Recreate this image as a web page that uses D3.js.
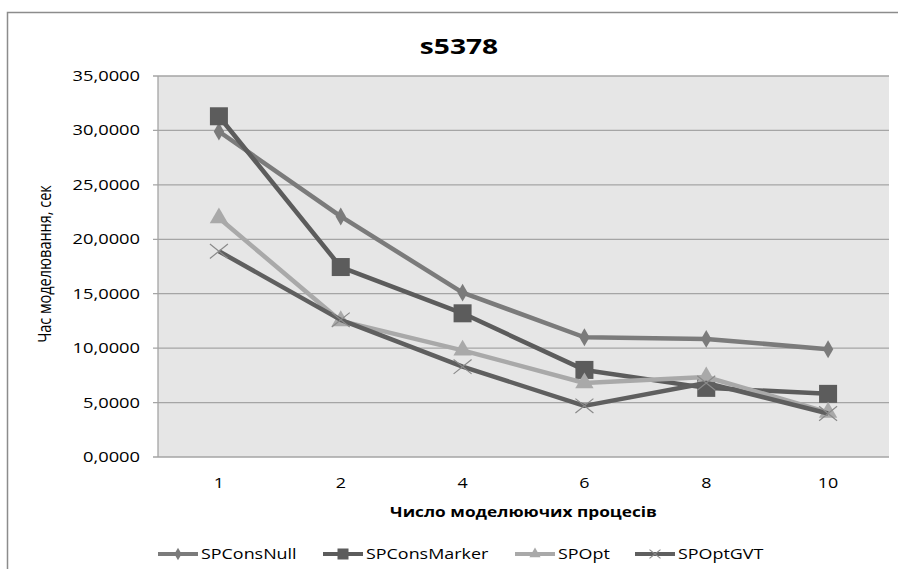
<!DOCTYPE html>
<html lang="uk">
<head>
    <meta charset="utf-8">
    <title>s5378</title>
    <script src="https://cdn.jsdelivr.net/npm/d3@7"></script>
    <style>
        body { margin: 0; background: #fff; }
        svg text { font-family: "Open Sans", sans-serif; fill: #000; }
    </style>
</head>
<body>
    <svg id="chart" width="898" height="569"></svg>

    <script>
        // data
        const processes = ["1", "2", "4", "6", "8", "10"];
        const yTicks = [0, 5, 10, 15, 20, 25, 30, 35];
        const seriesNames = ["SPConsNull", "SPConsMarker", "SPOpt", "SPOptGVT"];
        const spConsNull = [29.9, 22.1, 15.1, 11.0, 10.85, 9.9];
        const spConsMarker = [31.3, 17.45, 13.2, 8.0, 6.35, 5.8];
        const spOpt = [21.95, 12.5, 9.8, 6.8, 7.35, 4.1];
        const spOptGVT = [18.9, 12.6, 8.3, 4.7, 6.8, 4.0];

        const series = [
            { name: seriesNames[0], values: spConsNull, color: "#7b7b7b", marker: "diamond" },
            { name: seriesNames[1], values: spConsMarker, color: "#5c5c5c", marker: "square" },
            { name: seriesNames[2], values: spOpt, color: "#a9a9a9", marker: "triangle" },
            { name: seriesNames[3], values: spOptGVT, color: "#5f5f5f", marker: "cross" }
        ];

        const svg = d3.select("#chart");
        const sx = 1.28; // picture is stretched sideways, so the text is too
        const plot = { left: 158, top: 76, right: 889, bottom: 457 };

        // outer chart border
        svg.append("rect")
            .attr("x", 7.5).attr("y", 12.5)
            .attr("width", 910).attr("height", 600)
            .attr("fill", "none").attr("stroke", "#8c8c8c").attr("stroke-width", 1.5);

        const x = d3.scalePoint()
            .domain(processes)
            .range([plot.left, plot.right])
            .padding(0.5);

        const y = d3.scaleLinear()
            .domain([0, 35])
            .range([plot.bottom, plot.top]);

        svg.append("rect")
            .attr("x", plot.left).attr("y", plot.top)
            .attr("width", plot.right - plot.left).attr("height", plot.bottom - plot.top)
            .attr("fill", "#e6e6e6");

        // gridlines
        svg.append("g")
            .selectAll("line")
            .data(yTicks)
            .enter()
            .append("line")
            .attr("x1", plot.left - 5).attr("x2", plot.right)
            .attr("y1", d => y(d)).attr("y2", d => y(d))
            .attr("stroke", "#a5a5a5").attr("stroke-width", 1.3);

        svg.append("line")
            .attr("x1", plot.left).attr("x2", plot.left)
            .attr("y1", plot.top).attr("y2", plot.bottom)
            .attr("stroke", "#a5a5a5").attr("stroke-width", 1.3);

        function stretchedText(px, py, str) {
            return svg.append("text")
                .attr("transform", `translate(${px},${py}) scale(${sx},1)`)
                .text(str);
        }

        const fmt = v => d3.format(".4f")(v).replace(".", ",");

        yTicks.forEach(t => {
            stretchedText(plot.left - 18, y(t) + 5, fmt(t))
                .attr("text-anchor", "end")
                .attr("font-size", 14.3);
        });

        processes.forEach(p => {
            stretchedText(x(p), 488, p)
                .attr("text-anchor", "middle")
                .attr("font-size", 14);
        });

        stretchedText(459, 54, "s5378")
            .attr("text-anchor", "middle")
            .attr("font-size", 22)
            .attr("font-weight", "bold");

        stretchedText((plot.left + plot.right) / 2, 517, "Число моделюючих процесів")
            .attr("text-anchor", "middle")
            .attr("font-size", 13.5)
            .attr("font-weight", "bold");

        svg.append("text")
            .attr("transform", `translate(51,264) scale(${sx},1) rotate(-90)`)
            .attr("text-anchor", "middle")
            .attr("font-size", 14.5)
            .text("Час моделювання, сек");

        const line = d3.line()
            .x((d, i) => x(processes[i]))
            .y(d => y(d));

        function drawMarker(g, kind, color, size) {
            if (kind === "diamond") {
                g.append("path")
                    .attr("d", d3.symbol(d3.symbolDiamond, size * size * 0.55)())
                    .attr("fill", color);
            } else if (kind === "square") {
                g.append("rect")
                    .attr("x", -size / 2).attr("y", -size / 2)
                    .attr("width", size).attr("height", size)
                    .attr("fill", color);
            } else if (kind === "triangle") {
                g.append("path")
                    .attr("d", d3.symbol(d3.symbolTriangle, size * size * 0.45)())
                    .attr("fill", color);
            } else {
                const h = size / 2;
                g.append("path")
                    .attr("d", `M${-h},${-h * 0.8}L${h},${h * 0.8}M${-h},${h * 0.8}L${h},${-h * 0.8}`)
                    .attr("stroke", "#8a8a8a").attr("stroke-width", 1.2).attr("fill", "none");
            }
        }

        const markerSize = { diamond: 13, square: 18, triangle: 18, cross: 18 };

        series.forEach(s => {
            const g = svg.append("g");
            g.append("path")
                .datum(s.values)
                .attr("d", line)
                .attr("fill", "none")
                .attr("stroke", s.color)
                .attr("stroke-width", 4.5)
                .attr("stroke-linejoin", "round");
            s.values.forEach((v, i) => {
                const m = g.append("g")
                    .attr("transform", `translate(${x(processes[i])},${y(v)})`);
                drawMarker(m, s.marker, s.color, markerSize[s.marker]);
            });
        });

        // legend
        const legendX = [158, 323, 515, 635];
        series.forEach((s, i) => {
            const g = svg.append("g").attr("transform", `translate(${legendX[i]},554)`);
            g.append("line")
                .attr("x1", 0).attr("x2", 40)
                .attr("stroke", s.color).attr("stroke-width", 4);
            const m = g.append("g").attr("transform", "translate(20,0)");
            drawMarker(m, s.marker, s.color, s.marker === "diamond" ? 9 : 11);
            g.append("text")
                .attr("transform", `translate(43,5) scale(${sx},1)`)
                .attr("font-size", 14)
                .text(s.name);
        });
    </script>
</body>
</html>
